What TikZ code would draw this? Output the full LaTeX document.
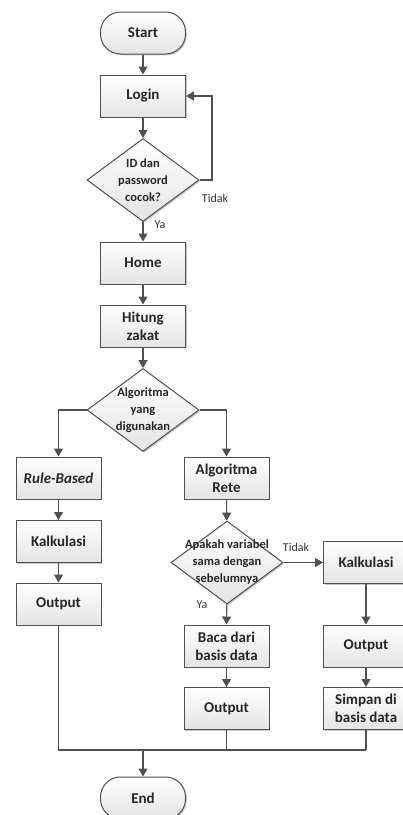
\documentclass[tikz,border=0pt]{standalone}
\usepackage{fontspec}
\setmainfont{Carlito}
\usetikzlibrary{shapes.geometric,shadows,arrows.meta}
\definecolor{lc}{HTML}{505050}
\definecolor{fb}{HTML}{E4E4E4}
\begin{document}
\begin{tikzpicture}[x=1pt,y=-1pt,
  base/.style={draw=lc,line width=1pt,top color=white,bottom color=fb,
    drop shadow={shadow xshift=1.3pt,shadow yshift=-1.3pt,fill=black,opacity=0.22},
    text=black!85},
  proc/.style={base,rectangle,minimum width=85pt,minimum height=42pt,inner sep=0pt,
    align=center,font=\fontsize{15}{18}\selectfont\bfseries},
  term/.style={proc,rounded corners=20pt},
  dec/.style={base,diamond,minimum width=112pt,minimum height=83pt,inner sep=0pt},
  dectext/.style={align=center,font=\fontsize{12.5}{17}\selectfont\bfseries,text=black!85},
  lbl/.style={font=\fontsize{12}{14}\selectfont,text=black!80},
  conn/.style={draw=lc,line width=1.1pt},
  arr/.style={conn,-{Triangle[length=8pt,width=9pt]}}]
\useasboundingbox (0,0) rectangle (403,815);

\node[term] (start) at (143,33) {Start};
\node[proc] (login) at (143,96) {Login};
\node[dec] (d1) at (143,180) {};
\node[dectext] (d1t) at (d1) {ID dan\\password\\cocok?};
\node[proc] (home) at (143,263) {Home};
\node[proc] (hitung) at (143,326) {Hitung\\zakat};
\node[dec] (d2) at (143,410) {};
\node[dectext] (d2t) at (d2) {Algoritma\\yang\\digunakan};
\node[proc] (rule) at (58.5,478) {\itshape Rule-Based};
\node[proc] (rete) at (226.5,478) {Algoritma\\Rete};
\node[proc] (kalk1) at (58.5,541.5) {Kalkulasi};
\node[proc] (out1) at (58.5,604) {Output};
\node[dec] (d3) at (227,562.5) {};
\node[dectext] (d3t) at (d3) {Apakah variabel\\sama dengan\\sebelumnya};
\node[proc] (kalk2) at (366,562.5) {Kalkulasi};
\node[proc] (baca) at (226.5,646) {Baca dari\\basis data};
\node[proc] (out3) at (366,646) {Output};
\node[proc] (out2) at (226.5,708.5) {Output};
\node[proc] (simpan) at (366,708.5) {Simpan di\\basis data};
\node[term] (end) at (143,798) {End};

\coordinate (loop) at (212,180);
\coordinate (join) at (143,750);
\coordinate (jl) at (58.5,750);
\coordinate (jr) at (366,750);

\draw[arr] (start) -- (login);
\draw[arr] (login) -- (d1);
\draw[arr] (d1.east) -- (loop) |- (login.east);
\draw[arr] (d1) -- (home);
\draw[arr] (home) -- (hitung);
\draw[arr] (hitung) -- (d2);
\draw[arr] (d2.west) -| (rule.north);
\draw[arr] (d2.east) -| (rete.north);
\draw[arr] (rule) -- (kalk1);
\draw[arr] (kalk1) -- (out1);
\draw[arr] (rete) -- (d3);
\draw[arr] (d3.east) -- (kalk2.west);
\draw[arr] (d3) -- (baca);
\draw[arr] (kalk2) -- (out3);
\draw[arr] (baca) -- (out2);
\draw[arr] (out3) -- (simpan);
\draw[conn] (out1.south) -- (jl) -- (jr);
\draw[conn] (out2.south) -- (out2.south |- jl);
\draw[conn] (simpan.south) -- (jr);
\draw[arr] (join) -- (end);

\node[lbl] (t1) at (215,198) {Tidak};
\node[lbl] (y1) at (160,225) {Ya};
\node[lbl] (t2) at (296,547) {Tidak};
\node[lbl] (y2) at (202,605) {Ya};
\end{tikzpicture}
\end{document}
